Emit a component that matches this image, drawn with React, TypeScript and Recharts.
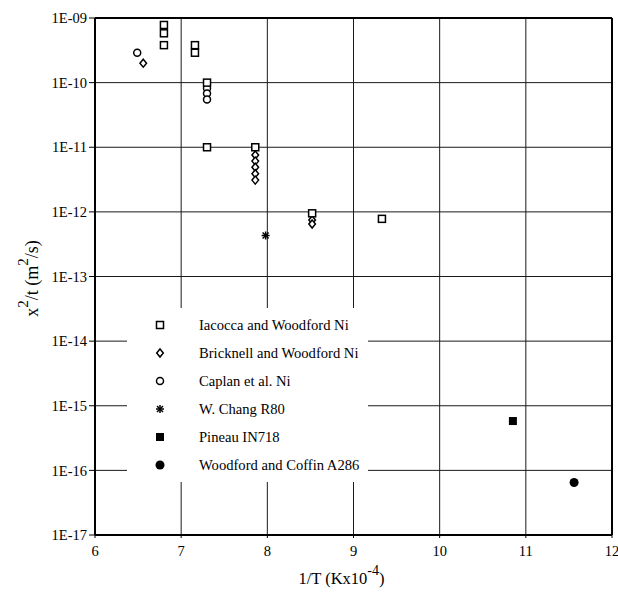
import { CartesianGrid, Label, Legend, ReferenceLine, Scatter, ScatterChart, XAxis, YAxis } from "recharts";

// x = 1/T (K x 10^-4), y = x^2/t (m^2/s)
const iacoccaX = [6.8, 6.8, 6.8, 7.16, 7.16, 7.3, 7.3, 7.86, 8.52, 9.33];
const iacoccaY = [7.8e-10, 5.8e-10, 3.8e-10, 3.8e-10, 2.9e-10, 1e-10, 1e-11, 1e-11, 9.5e-13, 7.8e-13];

const bricknellX = [6.56, 7.86, 7.86, 7.86, 7.86, 7.86, 8.52, 8.52];
const bricknellY = [2e-10, 7.6e-12, 6.1e-12, 4.9e-12, 3.9e-12, 3.1e-12, 7.5e-13, 6.5e-13];

const caplanX = [6.49, 7.3, 7.3, 7.3];
const caplanY = [2.9e-10, 8.2e-11, 6.8e-11, 5.5e-11];

const changX = [7.98];
const changY = [4.3e-13];

const pineauX = [10.85];
const pineauY = [5.8e-16];

const coffinX = [11.56];
const coffinY = [6.5e-17];

const xTicks = [6, 7, 8, 9, 10, 11, 12];
const yTicks = [1e-17, 1e-16, 1e-15, 1e-14, 1e-13, 1e-12, 1e-11, 1e-10, 1e-9];

const pts = (xs: number[], ys: number[]) => xs.map((x, i) => ({ x, y: ys[i] }));

type Kind = "square" | "diamond" | "circle" | "star" | "fsquare" | "fcircle";

const series: { name: string; kind: Kind; data: { x: number; y: number }[] }[] = [
  { name: "Bricknell and Woodford Ni", kind: "diamond", data: pts(bricknellX, bricknellY) },
  { name: "Caplan et al. Ni", kind: "circle", data: pts(caplanX, caplanY) },
  { name: "W. Chang R80", kind: "star", data: pts(changX, changY) },
  { name: "Pineau IN718", kind: "fsquare", data: pts(pineauX, pineauY) },
  { name: "Woodford and Coffin A286", kind: "fcircle", data: pts(coffinX, coffinY) },
  { name: "Iacocca and Woodford Ni", kind: "square", data: pts(iacoccaX, iacoccaY) },
];

const legendOrder = [
  "Iacocca and Woodford Ni",
  "Bricknell and Woodford Ni",
  "Caplan et al. Ni",
  "W. Chang R80",
  "Pineau IN718",
  "Woodford and Coffin A286",
];

const FONT = "'Liberation Serif', 'Times New Roman', Times, 'DejaVu Serif', serif";

function marker(kind: Kind, cx: number, cy: number) {
  const s = { stroke: "#000", strokeWidth: 1.5 };
  switch (kind) {
    case "square":
      return <rect x={cx - 3.5} y={cy - 3.5} width={7} height={7} fill="#fff" {...s} />;
    case "diamond":
      return <polygon points={`${cx},${cy - 4} ${cx + 3.3},${cy} ${cx},${cy + 4} ${cx - 3.3},${cy}`} fill="#fff" {...s} />;
    case "circle":
      return <circle cx={cx} cy={cy} r={3.5} fill="#fff" {...s} />;
    case "star":
      return (
        <g {...s}>
          <line x1={cx - 4} y1={cy} x2={cx + 4} y2={cy} />
          <line x1={cx} y1={cy - 4} x2={cx} y2={cy + 4} />
          <line x1={cx - 3} y1={cy - 3} x2={cx + 3} y2={cy + 3} />
          <line x1={cx - 3} y1={cy + 3} x2={cx + 3} y2={cy - 3} />
        </g>
      );
    case "fsquare":
      return <rect x={cx - 4} y={cy - 4} width={8} height={8} fill="#000" />;
    default:
      return <circle cx={cx} cy={cy} r={4.5} fill="#000" />;
  }
}

const fmtY = (v: number) => "1E-" + String(Math.round(-Math.log10(v))).padStart(2, "0");

function LegendBox() {
  return (
    <svg width={241} height={174} style={{ display: "block", background: "#fff" }}>
      {legendOrder.map((name, i) => {
        const s = series.find((d) => d.name === name)!;
        const cy = 17 + i * 28;
        return (
          <g key={name}>
            {marker(s.kind, 33, cy)}
            <text x={72} y={cy + 5} style={{ fontFamily: FONT }} fontSize={14.6} fill="#000">
              {name}
            </text>
          </g>
        );
      })}
    </svg>
  );
}

export default function App() {
  return (
    <div style={{ position: "absolute", left: 0, top: 0, width: 618, height: 603, fontFamily: FONT }}>
      <ScatterChart width={618} height={603} margin={{ top: 18, right: 6, bottom: 38, left: 0 }} style={{ fontFamily: FONT }}>
        <CartesianGrid stroke="#1a1a1a" strokeWidth={1} />
        <XAxis
          type="number"
          dataKey="x"
          domain={[6, 12]}
          ticks={xTicks}
          interval={0}
          height={30}
          tickSize={3}
          tickMargin={8}
          stroke="#000"
          axisLine={{ stroke: "#000", strokeWidth: 2 }}
          tick={{ style: { fontFamily: FONT }, fontSize: 14.5, fill: "#000" }}
        >
          <Label
            content={({ viewBox }: any) => (
              <text x={viewBox.x + viewBox.width / 2 - 12} y={viewBox.y + 49} textAnchor="middle" style={{ fontFamily: FONT }} fontSize={16.5} fill="#000">
                1/T (Kx10
                <tspan dy={-9} fontSize={14}>-4</tspan>
                <tspan dy={9}>)</tspan>
              </text>
            )}
          />
        </XAxis>
        <YAxis
          type="number"
          dataKey="y"
          scale="log"
          domain={[1e-17, 1e-9]}
          ticks={yTicks}
          interval={0}
          allowDataOverflow
          width={95}
          tickSize={6}
          tickMargin={2}
          tickFormatter={fmtY}
          stroke="#000"
          axisLine={{ stroke: "#000", strokeWidth: 2 }}
          tick={{ style: { fontFamily: FONT }, fontSize: 14.5, fill: "#000" }}
        >
          <Label
            content={({ viewBox }: any) => {
              const cx = 34;
              const cy = viewBox.y + viewBox.height / 2 + 2;
              return (
                <text x={cx} y={cy} transform={`rotate(-90 ${cx} ${cy})`} textAnchor="middle" dominantBaseline="middle" style={{ fontFamily: FONT }} fontSize={18} fill="#000">
                  x<tspan dy={-9} fontSize={15}>2</tspan>
                  <tspan dy={9}>/t (m</tspan>
                  <tspan dy={-9} fontSize={15}>2</tspan>
                  <tspan dy={9}>/s)</tspan>
                </text>
              );
            }}
          />
        </YAxis>
        <ReferenceLine y={1e-9} stroke="#000" strokeWidth={2} />
        <ReferenceLine x={12} stroke="#000" strokeWidth={2} />
        {series.map((s) => (
          <Scatter
            key={s.name}
            name={s.name}
            data={s.data}
            isAnimationActive={false}
            shape={(p: any) => marker(s.kind, p.cx, p.cy)}
          />
        ))}
        <Legend
          layout="vertical"
          align="center"
          verticalAlign="middle"
          content={() => <LegendBox />}
          wrapperStyle={{ position: "absolute", left: 127, top: 308, width: 241, height: 174 }}
        />
      </ScatterChart>
    </div>
  );
}
